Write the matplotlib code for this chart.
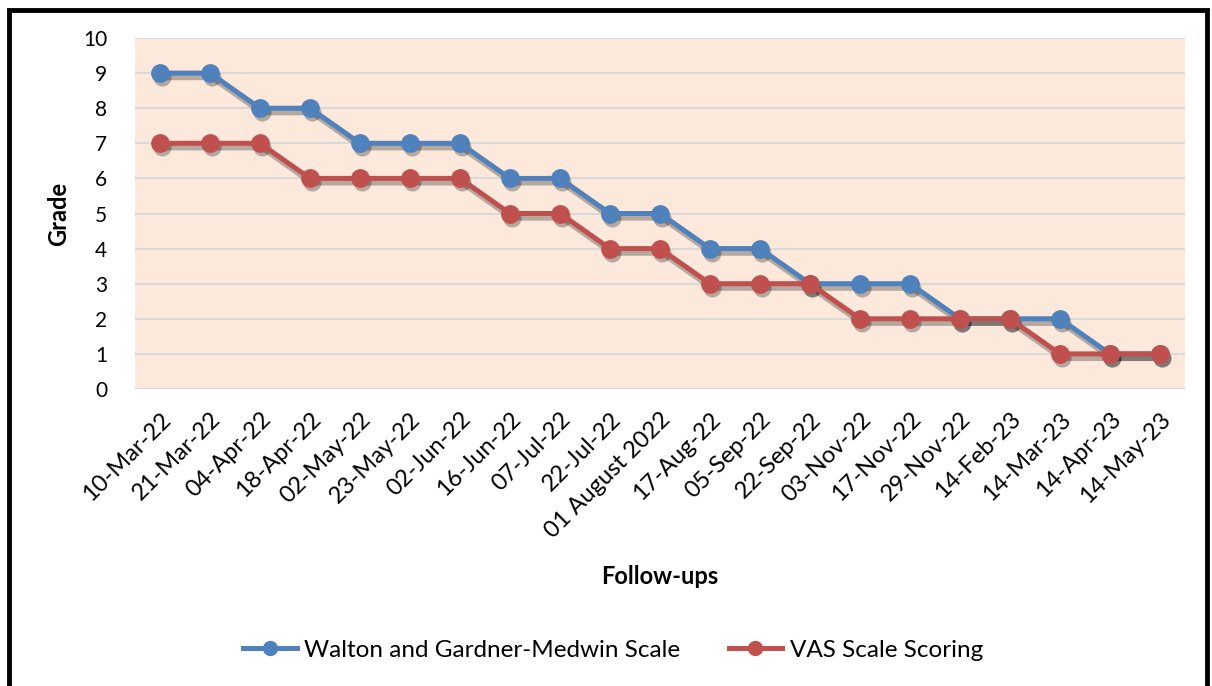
import numpy as np
import matplotlib.pyplot as plt
import matplotlib.transforms as mtransforms
from matplotlib.patches import Rectangle

plt.rcParams['font.family'] = ['Lato', 'DejaVu Sans']

dates = ['10-Mar-22', '21-Mar-22', '04-Apr-22', '18-Apr-22', '02-May-22', '23-May-22',
         '02-Jun-22', '16-Jun-22', '07-Jul-22', '22-Jul-22', '01 August 2022', '17-Aug-22',
         '05-Sep-22', '22-Sep-22', '03-Nov-22', '17-Nov-22', '29-Nov-22', '14-Feb-23',
         '14-Mar-23', '14-Apr-23', '14-May-23']
walton = [9, 9, 8, 8, 7, 7, 7, 6, 6, 5, 5, 4, 4, 3, 3, 3, 2, 2, 2, 1, 1]
vas = [7, 7, 7, 6, 6, 6, 6, 5, 5, 4, 4, 3, 3, 3, 2, 2, 2, 2, 1, 1, 1]

fig = plt.figure(figsize=(12.12, 6.86), dpi=100)
ax = fig.add_axes([135/1212, 1 - 389/686, (1185-135)/1212, (389-38)/686])
ax.set_facecolor('#FCE9DB')

x = np.arange(len(dates))
# soft drop shadow under each series
shadow_tr = mtransforms.offset_copy(ax.transData, fig=fig, x=2, y=-4, units='dots')
for vals in (walton, vas):
    ax.plot(x, vals, color='black', alpha=0.28, lw=4.5, marker='o', ms=13,
            mew=0, transform=shadow_tr, zorder=2)

ax.plot(x, walton, color='#4F81BD', lw=3.6, marker='o', ms=12.5,
        label='Walton and Gardner-Medwin Scale', zorder=3)
ax.plot(x, vas, color='#C0504D', lw=3.6, marker='o', ms=12.5,
        label='VAS Scale Scoring', zorder=4)

ax.set_xlim(-0.5, len(dates) - 0.5)
ax.set_ylim(0, 10)
ax.set_yticks(range(0, 11))
ax.yaxis.grid(True, color='#D9D9D9', lw=1.5)
ax.set_axisbelow(True)
for s in ax.spines.values():
    s.set_visible(False)
ax.tick_params(length=0, labelsize=15)
ax.tick_params(axis='y', pad=20)
ax.tick_params(axis='x', pad=14)
ax.set_xticks(x)
ax.set_xticklabels(dates, rotation=45, ha='right', rotation_mode='anchor', fontsize=17)

ax.set_ylabel('Grade', fontsize=17, fontweight='bold', labelpad=9)
ax.set_xlabel('Follow-ups', fontsize=17, fontweight='bold', labelpad=17)

fig.legend(loc='center', bbox_to_anchor=(613/1212, 1 - 650/686), ncol=2, frameon=False,
           fontsize=17.5, handlelength=2.2, columnspacing=2.0, handletextpad=0.3,
           markerscale=0.8)

fig.patches.append(Rectangle((9/1212, -0.02), (1207-9)/1212, 1 - 10/686 + 0.02,
                             transform=fig.transFigure, fill=False, ec='black', lw=3.5))

fig.savefig('out.png', dpi=100)
